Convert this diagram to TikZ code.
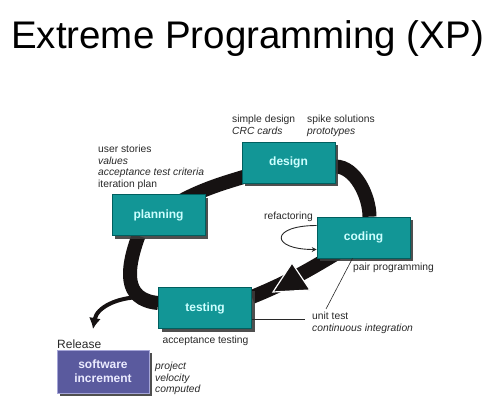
\documentclass[tikz,border=0pt]{standalone}
\usepackage{fontspec}
\setmainfont{Liberation Sans}
\usepackage{xcolor}
\usepackage{tikz}
\usetikzlibrary{arrows.meta, positioning, calc, backgrounds, shadows}
\definecolor{xpteal}{RGB}{18,150,150}
\definecolor{xpdarkteal}{RGB}{0,95,95}
\definecolor{xptext}{RGB}{205,255,255}
\definecolor{xpviolet}{RGB}{90,90,158}
\definecolor{xplightviolet}{RGB}{165,165,215}
\definecolor{xpvtext}{RGB}{235,235,255}
\definecolor{xpband}{RGB}{22,18,18}
\definecolor{xpgray}{RGB}{40,40,40}
\definecolor{xpshadow}{RGB}{60,60,60}
\tikzset{
  stage/.style={
    rectangle, draw=xpdarkteal, line width=0.6pt, fill=xpteal,
    minimum width=93pt, minimum height=41pt, text=xptext,
    font=\fontsize{12}{14}\selectfont\bfseries,
    drop shadow={shadow xshift=3pt, shadow yshift=-3pt, fill=xpshadow, opacity=0.9}
  },
  releasebox/.style={
    stage, draw=xplightviolet, fill=xpviolet, text=xpvtext,
    minimum width=92pt, minimum height=43pt, align=center
  },
  note/.style={inner sep=0pt, align=left, font=\fontsize{10.3}{11.6}\selectfont, text=xpgray},
  cycleband/.style={line width=14pt, draw=xpband},
  leader/.style={line width=0.6pt, draw=xpgray},
  loopflow/.style={-{Stealth[length=5pt,width=5pt]}, line width=0.9pt, draw=xpgray},
  releaseflow/.style={-{Latex[length=11pt,width=12pt]}, line width=4pt, draw=xpband}
}
\begin{document}
\begin{tikzpicture}[x=1pt, y=1pt]
\useasboundingbox (0,0) rectangle (492,-417);

% -------- TITLE --------
\node[font=\fontsize{38.5}{42}\selectfont, anchor=base, inner sep=0pt] (title) at (247.5,-49) {Extreme Programming (XP)};

% -------- STAGES OF THE CYCLE --------
\node[stage] (design) at (288.5,-162.5) {design};
\node[stage] (planning) at (158.5,-215) {planning};
\node[stage] (coding) at (363.5,-237.5) {coding};
\node[stage] (testing) at (205,-308) {testing};
\node[releasebox] (increment) at (103,-371.5) {software\\increment};

% -------- PRACTICES --------
\node[note, anchor=north west] (designnotes) at (232,-115) {simple design\\\textit{CRC cards}};
\node[note, anchor=north west] (spikenotes) at (307,-115) {spike solutions\\\textit{prototypes}};
\node[note, anchor=north west] (planningnotes) at (98,-145) {user stories\\\textit{values}\\\textit{acceptance test criteria}\\iteration plan};
\node[note, anchor=base east] (refactor) at (313,-219) {refactoring};
\node[note, anchor=north west] (pairnote) at (353,-263) {pair programming};
\node[note, anchor=north west] (unitnotes) at (312,-312) {unit test\\\textit{continuous integration}};
\node[note, anchor=north] (acceptnote) at (205.5,-336) {acceptance testing};
\node[note, anchor=base west, font=\fontsize{12}{14}\selectfont] (release) at (57,-348) {Release};
\node[note, anchor=north west, font=\fontsize{10.3}{11.6}\selectfont\itshape] (velocity) at (155,-362) {project\\velocity\\computed};

% leaders to unit test
\coordinate (unitfoot) at (305,-319);
\coordinate (unitelbow) at (326,-309);
\draw[leader] (testing.east |- unitfoot) -- (unitfoot);
\draw[leader] ([xshift=-11pt]coding.south) -- (unitelbow);

% -------- THE CYCLE --------
\begin{scope}[on background layer]
\draw[cycleband] (planning.center) to[out=35,in=200] (design.center);
\draw[cycleband] ([yshift=-4pt]design.east) to[out=0,in=90,looseness=0.85] ([xshift=6pt]coding.north);
\draw[cycleband] (coding.center) to[out=210,in=22] ([yshift=11pt]testing.east);
\draw[cycleband] ([yshift=5pt]testing.west) to[out=175,in=-110,looseness=1.3] coordinate[pos=0.22] (relfork) ([xshift=-20pt]planning.south);
\end{scope}

\coordinate (bigtip) at (273,-292);
\filldraw[fill=xpband, draw=white, line width=1.2pt] (bigtip) -- ++(19,29) -- ++(18,-27) -- cycle;

% refactoring loop and release
\draw[loopflow] ([yshift=12pt]coding.west) to[out=180,in=180,looseness=5] ([yshift=-12pt]coding.west);
\coordinate (releasetip) at (93,-329);
\draw[releaseflow] (relfork) to[out=180,in=80] (releasetip);

\end{tikzpicture}
\end{document}
